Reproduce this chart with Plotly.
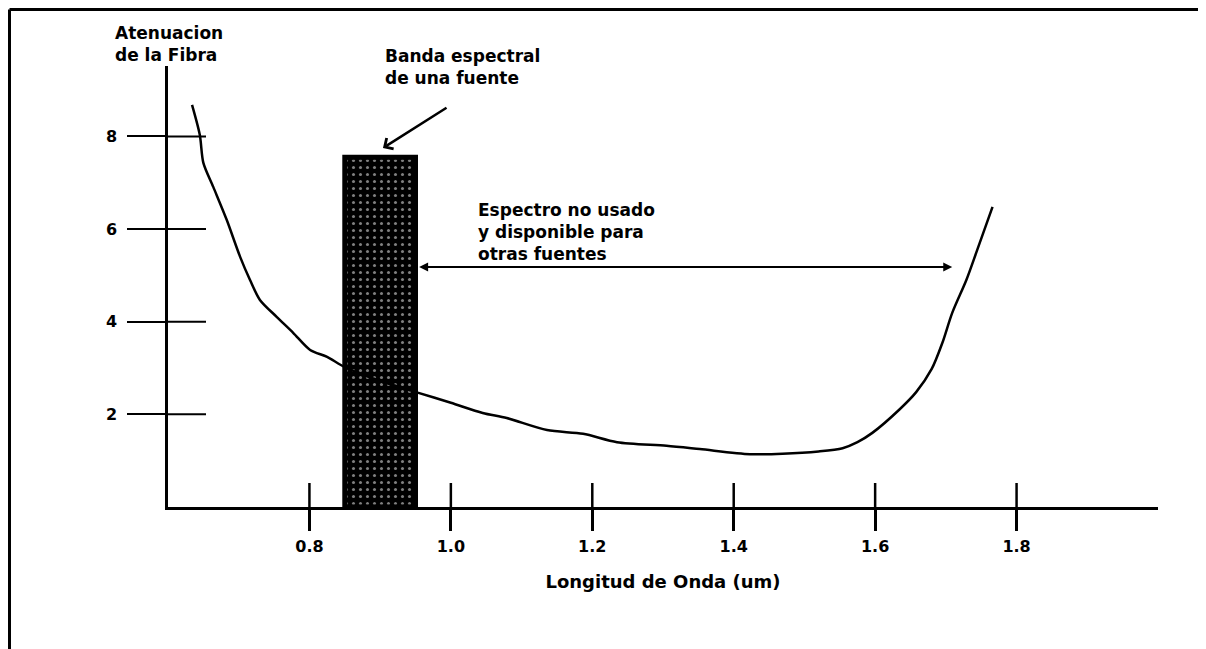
import plotly.graph_objects as go

# ---- data ----
wavelength = [0.634, 0.645, 0.650, 0.664, 0.683, 0.702, 0.716, 0.730, 0.754, 0.777,
              0.801, 0.825, 0.850, 0.900, 0.953, 1.000, 1.045, 1.079, 1.136, 1.187,
              1.235, 1.305, 1.352, 1.423, 1.469, 1.520, 1.554, 1.575, 1.596, 1.634,
              1.658, 1.680, 1.695, 1.709, 1.729, 1.743, 1.766]
attenuation = [8.68, 8.03, 7.43, 6.91, 6.20, 5.40, 4.90, 4.47, 4.10, 3.76,
               3.39, 3.24, 3.02, 2.72, 2.47, 2.25, 2.03, 1.92, 1.66, 1.58,
               1.40, 1.32, 1.25, 1.14, 1.15, 1.20, 1.27, 1.40, 1.60, 2.10,
               2.48, 2.98, 3.54, 4.19, 4.90, 5.49, 6.48]

band_center = [0.90]
band_width = [0.10]
band_height = [7.55]

x_tick_vals = [0.8, 1.0, 1.2, 1.4, 1.6, 1.8]
x_tick_text = ["0.8", "1.0", "1.2", "1.4", "1.6", "1.8"]
y_tick_vals = [2, 4, 6, 8]
y_tick_text = ["2", "4", "6", "8"]

x_range = [0.6, 2.0]
y_range = [0, 9.52]

unused_arrow_x = [0.953, 1.709]
unused_arrow_y = 5.18
band_arrow_tail = (0.996, 8.64)
band_arrow_tip = (0.904, 7.75)

y_title_lines = ["Atenuacion", "de la Fibra"]
band_label_lines = ["Banda espectral", "de una fuente"]
unused_label_lines = ["Espectro no usado", "y disponible para", "otras fuentes"]

FONT = "DejaVu Sans"
BLACK = "#000000"
TXT = 17

fig = go.Figure()

fig.add_trace(go.Scatter(
    x=wavelength, y=attenuation, mode="lines",
    line=dict(color=BLACK, width=2.5, shape="spline", smoothing=0.8),
    hoverinfo="skip",
))

fig.add_trace(go.Bar(
    x=band_center, y=band_height, width=band_width,
    marker=dict(
        color=BLACK,
        line=dict(color=BLACK, width=5),
        pattern=dict(shape=".", fgcolor="white", bgcolor=BLACK, size=7, solidity=0.15),
    ),
    hoverinfo="skip",
))

shapes = []
# inner halves of the crossing tick marks (outer halves are the axis ticks)
for v in y_tick_vals:
    shapes.append(dict(type="line", xref="x", yref="y", xsizemode="pixel",
                       xanchor=x_range[0], x0=0, x1=38, y0=v, y1=v,
                       line=dict(color=BLACK, width=2)))
for v in x_tick_vals:
    shapes.append(dict(type="line", xref="x", yref="y", ysizemode="pixel",
                       yanchor=y_range[0], y0=0, y1=24, x0=v, x1=v,
                       line=dict(color=BLACK, width=2.5)))
# page frame (top and left edges)
shapes.append(dict(type="line", xref="paper", yref="paper", x0=-0.1601, x1=1.06,
                   y0=1.128, y1=1.128, line=dict(color=BLACK, width=3)))
shapes.append(dict(type="line", xref="paper", yref="paper", x0=-0.1601, x1=-0.1601,
                   y0=1.128, y1=-0.33, line=dict(color=BLACK, width=3)))

tfont = dict(family=FONT, size=TXT, color=BLACK, weight="bold")


def px_x(px):
    return (px - 168) / 990


def px_y(py):
    return (507 - py) / 441


annotations = [
    dict(xref="paper", yref="paper", x=px_x(113), y=px_y(43.5),
         xanchor="left", yanchor="middle", align="left", showarrow=False,
         text="<br>".join(y_title_lines), font=tfont),
    dict(xref="paper", yref="paper", x=px_x(383), y=px_y(67),
         xanchor="left", yanchor="middle", align="left", showarrow=False,
         text="<br>".join(band_label_lines), font=tfont),
    dict(xref="paper", yref="paper", x=px_x(476), y=px_y(232),
         xanchor="left", yanchor="middle", align="left", showarrow=False,
         text="<br>".join(unused_label_lines), font=tfont),
    dict(xref="x", yref="y", axref="x", ayref="y",
         x=unused_arrow_x[1], y=unused_arrow_y, ax=unused_arrow_x[0], ay=unused_arrow_y,
         text="", showarrow=True, arrowhead=2, arrowside="end+start",
         arrowsize=0.9, arrowwidth=2, arrowcolor=BLACK),
    dict(xref="x", yref="y", axref="x", ayref="y",
         x=band_arrow_tip[0], y=band_arrow_tip[1], ax=band_arrow_tail[0], ay=band_arrow_tail[1],
         text="", showarrow=True, arrowhead=4, arrowsize=1, arrowwidth=2.5, arrowcolor=BLACK),
]

fig.update_layout(
    width=1198, height=641,
    margin=dict(l=160, r=48, t=58, b=142),
    paper_bgcolor="white", plot_bgcolor="white",
    showlegend=False,
    shapes=shapes,
    annotations=annotations,
    xaxis=dict(range=x_range, showgrid=False, zeroline=False, showline=True,
               linecolor=BLACK, linewidth=2.5,
               ticks="outside", ticklen=21, tickwidth=2.5, tickcolor=BLACK,
               tickvals=x_tick_vals, ticktext=x_tick_text,
               tickfont=dict(family=FONT, size=16, color=BLACK, weight="bold"),
               ticklabelstandoff=2,
               title=dict(text="Longitud de Onda (um)", standoff=21,
                          font=dict(family=FONT, size=18, color=BLACK, weight="bold"))),
    yaxis=dict(range=y_range, showgrid=False, zeroline=False, showline=True,
               linecolor=BLACK, linewidth=2.5,
               ticks="outside", ticklen=38, tickwidth=2, tickcolor=BLACK,
               tickvals=y_tick_vals, ticktext=y_tick_text,
               tickfont=dict(family=FONT, size=16, color=BLACK, weight="bold"),
               ticklabelstandoff=7),
)

fig.write_html("out.html")
